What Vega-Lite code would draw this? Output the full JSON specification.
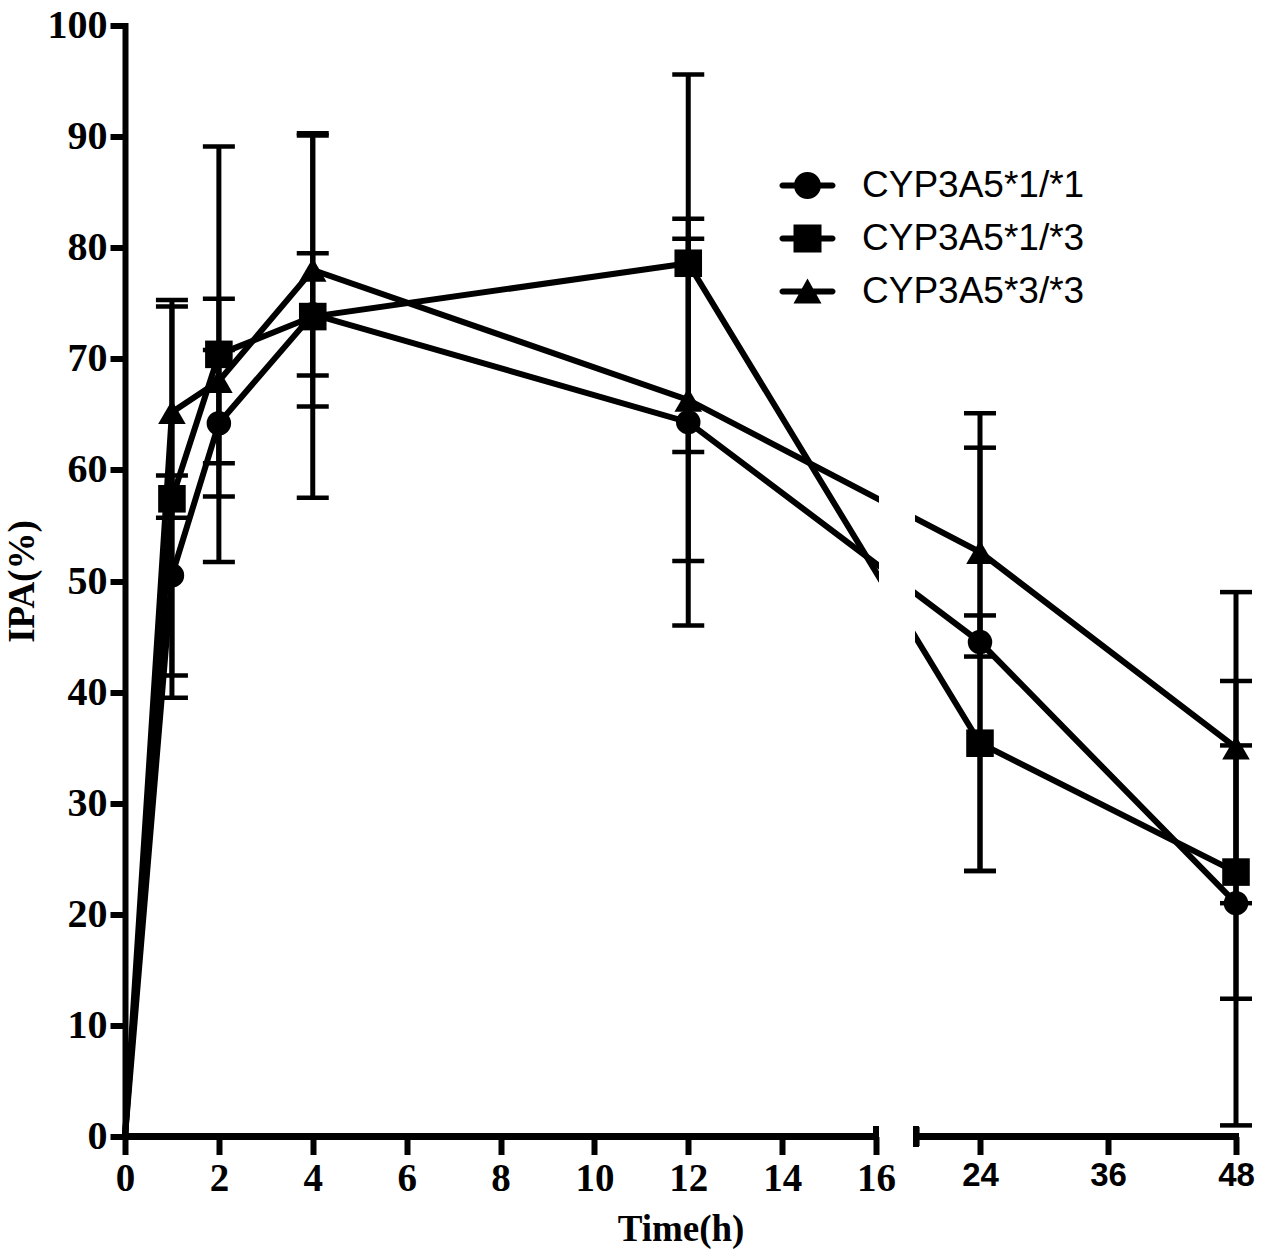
{
  "$schema": "https://vega.github.io/schema/vega-lite/v6.json",
  "width": 1111,
  "height": 1111,
  "autosize": {"type": "none"},
  "padding": {"left": 125, "top": 25.5, "right": 31, "bottom": 121.5},
  "background": "white",
  "config": {"view": {"stroke": null}, "axis": {"grid": false}},
  "data": {
    "values": [
      {"time": 0, "group": "CYP3A5*1/*1", "ipa": 0, "sd": 0},
      {"time": 0, "group": "CYP3A5*1/*3", "ipa": 0, "sd": 0},
      {"time": 0, "group": "CYP3A5*3/*3", "ipa": 0, "sd": 0},
      {"time": 1, "group": "CYP3A5*1/*1", "ipa": 50.5, "sd": 9.0},
      {"time": 1, "group": "CYP3A5*1/*3", "ipa": 57.4, "sd": 17.9},
      {"time": 1, "group": "CYP3A5*3/*3", "ipa": 65.2, "sd": 9.5},
      {"time": 2, "group": "CYP3A5*1/*1", "ipa": 64.2, "sd": 6.6},
      {"time": 2, "group": "CYP3A5*1/*3", "ipa": 70.4, "sd": 18.7},
      {"time": 2, "group": "CYP3A5*3/*3", "ipa": 68.0, "sd": 7.4},
      {"time": 4, "group": "CYP3A5*1/*1", "ipa": 74.0, "sd": 5.5},
      {"time": 4, "group": "CYP3A5*1/*3", "ipa": 73.8, "sd": 16.3},
      {"time": 4, "group": "CYP3A5*3/*3", "ipa": 78.0, "sd": 12.3},
      {"time": 12, "group": "CYP3A5*1/*1", "ipa": 64.3, "sd": 18.3},
      {"time": 12, "group": "CYP3A5*1/*3", "ipa": 78.6, "sd": 17.0},
      {"time": 12, "group": "CYP3A5*3/*3", "ipa": 66.3, "sd": 14.5},
      {"time": 24, "group": "CYP3A5*1/*1", "ipa": 44.5, "sd": 20.6},
      {"time": 24, "group": "CYP3A5*1/*3", "ipa": 35.4, "sd": 11.5},
      {"time": 24, "group": "CYP3A5*3/*3", "ipa": 52.6, "sd": 9.4},
      {"time": 48, "group": "CYP3A5*1/*1", "ipa": 21.0, "sd": 20.0},
      {"time": 48, "group": "CYP3A5*1/*3", "ipa": 23.8, "sd": 11.4},
      {"time": 48, "group": "CYP3A5*3/*3", "ipa": 35.0, "sd": 14.0}
    ]
  },
  "encoding": {
    "x": {
      "field": "time",
      "type": "quantitative",
      "scale": {"domain": [0, 16, 24, 48], "range": [0, 751, 855, 1111], "nice": false, "zero": false},
      "axis": {
        "values": [0, 2, 4, 6, 8, 10, 12, 14, 16, 24, 36, 48],
        "format": "d",
        "domain": false,
        "ticks": true,
        "tickColor": "black",
        "tickWidth": 6,
        "tickSize": 18,
        "labelFont": {"condition": {"test": "datum.value > 16", "value": "Liberation Sans"}, "value": "Liberation Serif"},
        "labelFontSize": {"condition": {"test": "datum.value > 16", "value": 33}, "value": 39},
        "labelFontWeight": "bold",
        "labelColor": "black",
        "labelPadding": 5,
        "labelFlush": false,
        "labelOverlap": false,
        "title": "Time(h)",
        "titleFont": "Liberation Serif",
        "titleFontSize": 37,
        "titleFontWeight": "bold",
        "titleColor": "black",
        "titlePadding": 13
      }
    },
    "y": {
      "field": "ipa",
      "type": "quantitative",
      "scale": {"domain": [0, 100], "nice": false},
      "axis": {
        "values": [0, 10, 20, 30, 40, 50, 60, 70, 80, 90, 100],
        "format": "d",
        "domainColor": "black",
        "domainWidth": 6,
        "domainCap": "square",
        "tickColor": "black",
        "tickWidth": 6,
        "tickSize": 15,
        "labelFont": "Liberation Serif",
        "labelFontSize": 40,
        "labelFontWeight": "bold",
        "labelColor": "black",
        "labelPadding": 3,
        "title": "IPA(%)",
        "titleFont": "Liberation Serif",
        "titleFontSize": 37,
        "titleFontWeight": "bold",
        "titleColor": "black",
        "titlePadding": 6
      }
    }
  },
  "resolve": {"scale": {"shape": "independent"}, "legend": {"shape": "independent"}},
  "layer": [
    {
      "transform": [{"filter": "datum.time > 0"}],
      "mark": {
        "type": "errorbar",
        "color": "black",
        "thickness": 4.5,
        "size": 32,
        "ticks": {"size": 32, "thickness": 4.5, "color": "black", "opacity": 1},
        "rule": {"strokeWidth": 5, "color": "black"}
      },
      "encoding": {
        "yError": {"field": "sd"},
        "detail": {"field": "group"}
      }
    },
    {
      "mark": {"type": "line", "color": "black", "strokeWidth": 6},
      "encoding": {"detail": {"field": "group"}}
    },
    {
      "transform": [{"filter": "datum.time > 0"}],
      "mark": {"type": "point", "filled": true, "opacity": 1, "color": "black"},
      "encoding": {
        "shape": {
          "field": "group",
          "type": "nominal",
          "scale": {"domain": ["CYP3A5*1/*1", "CYP3A5*1/*3", "CYP3A5*3/*3"], "range": ["circle", "square", "triangle-up"]},
          "legend": null
        },
        "size": {
          "condition": {"test": "datum.group === 'CYP3A5*1/*1'", "value": 600},
          "value": 760
        }
      }
    },
    {
      "transform": [{"filter": "datum.time < 0"}],
      "mark": {"type": "point", "filled": true, "opacity": 1, "color": "black"},
      "encoding": {
        "shape": {
          "field": "group",
          "type": "nominal",
          "scale": {
            "domain": ["CYP3A5*1/*1", "CYP3A5*1/*3", "CYP3A5*3/*3"],
            "range": [
              "M-1,-0.12L1,-0.12A0.12,0.12 0 0 1 1,0.12L-1,0.12A0.12,0.12 0 0 1 -1,-0.12Z M0,-0.54A0.54,0.54 0 1 1 0,0.54A0.54,0.54 0 1 1 0,-0.54Z",
              "M-1,-0.12L1,-0.12A0.12,0.12 0 0 1 1,0.12L-1,0.12A0.12,0.12 0 0 1 -1,-0.12Z M-0.56,-0.56L0.56,-0.56L0.56,0.56L-0.56,0.56Z",
              "M-1,-0.12L1,-0.12A0.12,0.12 0 0 1 1,0.12L-1,0.12A0.12,0.12 0 0 1 -1,-0.12Z M0,-0.52L0.56,0.48L-0.56,0.48Z"
            ]
          },
          "legend": {
            "orient": "none",
            "legendX": 657.5,
            "legendY": 135,
            "title": null,
            "padding": 0,
            "symbolSize": 2500,
            "symbolFillColor": "black",
            "symbolStrokeColor": "black",
            "symbolStrokeWidth": 0,
            "symbolOpacity": 1,
            "labelFont": "Liberation Sans",
            "labelFontSize": 37,
            "labelColor": "black",
            "labelOffset": 29.5,
            "labelLimit": 400,
            "rowPadding": 10
          }
        }
      }
    },
    {
      "mark": {"type": "rect", "color": "white"},
      "encoding": {"x": {"datum": 16.25}, "x2": {"datum": 19.0}, "y": {"datum": 0}, "y2": {"datum": 100}}
    },
    {
      "mark": {"type": "rule", "color": "black", "strokeWidth": 6, "strokeCap": "square"},
      "encoding": {"x": {"datum": 0}, "x2": {"datum": 16}, "y": {"datum": 0}}
    },
    {
      "mark": {"type": "rule", "color": "black", "strokeWidth": 6, "strokeCap": "square"},
      "encoding": {"x": {"datum": 19.08}, "x2": {"datum": 48}, "y": {"datum": 0}}
    },
    {
      "mark": {"type": "rule", "color": "black", "strokeWidth": 6, "strokeCap": "butt"},
      "encoding": {"x": {"datum": 16}, "y": {"datum": 0}, "y2": {"datum": 0.9}}
    },
    {
      "mark": {"type": "rule", "color": "black", "strokeWidth": 6, "strokeCap": "butt"},
      "encoding": {"x": {"datum": 19.08}, "y": {"datum": -0.9}, "y2": {"datum": 0.9}}
    }
  ]
}
